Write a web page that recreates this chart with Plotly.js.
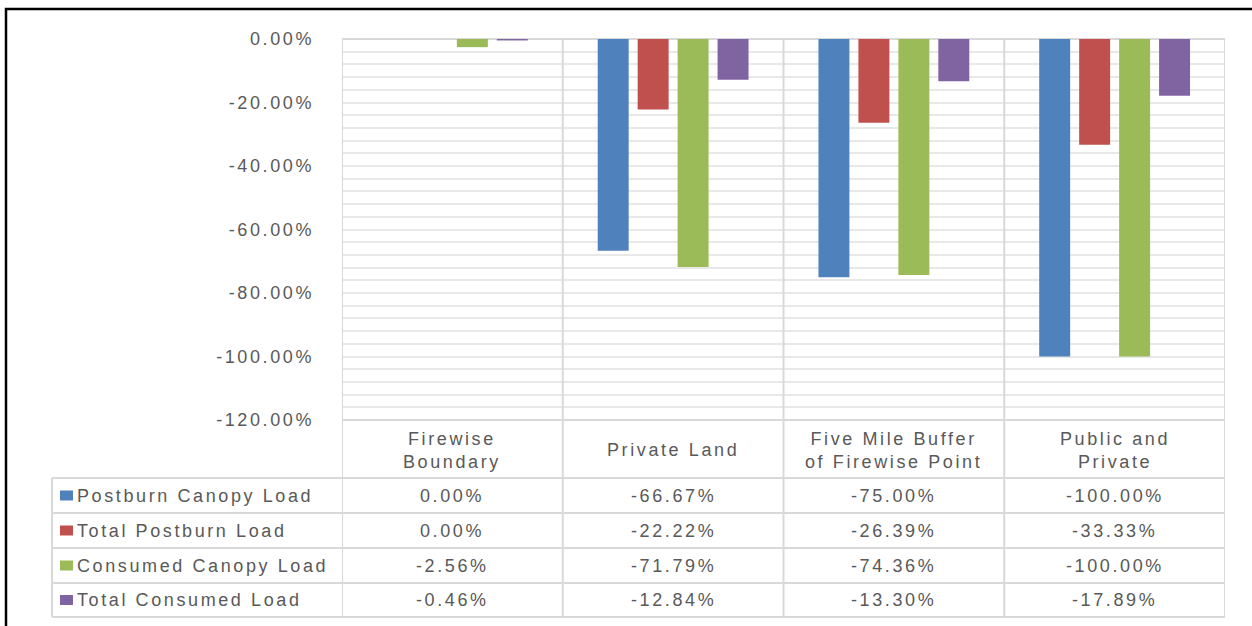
<!DOCTYPE html>
<html>
<head>
<meta charset="utf-8">
<script src="https://cdn.plot.ly/plotly-3.0.1.min.js"></script>
<style>
  html, body { margin: 0; padding: 0; background: #fff; }
  #chart { width: 1252px; height: 626px; }
  svg text { letter-spacing: 2.6px; }
</style>
</head>
<body>
<div id="chart"></div>
<script>
// ---- data ----
const categories = ["Firewise<br>Boundary", "Private Land", "Five Mile Buffer<br>of Firewise Point", "Public and<br>Private"];
const seriesNames = ["Postburn Canopy Load", "Total Postburn Load", "Consumed Canopy Load", "Total Consumed Load"];
const postburnCanopy = [0.00, -66.67, -75.00, -100.00];
const totalPostburn = [0.00, -22.22, -26.39, -33.33];
const consumedCanopy = [-2.56, -71.79, -74.36, -100.00];
const totalConsumed = [-0.46, -12.84, -13.30, -17.89];
const yTicks = [0, -20, -40, -60, -80, -100, -120];
const yTickText = ["0.00%", "-20.00%", "-40.00%", "-60.00%", "-80.00%", "-100.00%", "-120.00%"];

const seriesValues = [postburnCanopy, totalPostburn, consumedCanopy, totalConsumed];
const colors = ["#4F81BD", "#C0504D", "#9BBB59", "#8064A2"];

// ---- geometry helpers (pixel -> paper) ----
const W = 1252, H = 626;
const PL = 342, PR = 1225, PT = 39, PB = 420;
const px = p => (p - PL) / (PR - PL);
const py = p => (PB - p) / (PB - PT);

const FONT = "'Liberation Sans', Arial, sans-serif";
const TXT = "#595959";
const GRID = "#e8e8e8";
const BORDER = "#d9d9d9";

const idx = categories.map((_, i) => i);

const traces = seriesValues.map((vals, s) => ({
  type: "bar",
  name: seriesNames[s],
  x: idx,
  y: vals,
  marker: { color: colors[s] },
  hoverinfo: "skip"
}));

// table geometry
const rowLines = [478, 513, 548, 583, 617];
const rowCenters = [495.5, 530.5, 565.5, 600];
const shapes = [];
const annotations = [];

// outer black frame
shapes.push({ type: "rect", xref: "paper", yref: "paper",
  x0: px(6), x1: px(1262), y0: py(9), y1: py(660),
  line: { color: "#000", width: 2.5 }, fillcolor: "rgba(0,0,0,0)" });

// header top line
shapes.push({ type: "line", xref: "x", yref: "paper", x0: -0.5, x1: categories.length - 0.5,
  y0: py(420), y1: py(420), line: { color: BORDER, width: 2 } });
// row lines
rowLines.forEach(r => shapes.push({ type: "line", xref: "paper", yref: "paper",
  x0: px(52), x1: px(1225), y0: py(r), y1: py(r), line: { color: BORDER, width: 2 } }));
// vertical category boundaries
for (let b = 0; b <= categories.length; b++) {
  shapes.push({ type: "line", xref: "x", yref: "paper", x0: b - 0.5, x1: b - 0.5,
    y0: py(39), y1: py(617), line: { color: BORDER, width: 2 } });
}
// left border of legend column
shapes.push({ type: "line", xref: "paper", yref: "paper", x0: px(52), x1: px(52),
  y0: py(478), y1: py(617), line: { color: BORDER, width: 2 } });

// category header labels
categories.forEach((c, i) => annotations.push({
  xref: "x", yref: "paper", x: i, y: py(450), text: c, showarrow: false,
  xanchor: "center", yanchor: "middle", align: "center",
  font: { family: FONT, size: 18, color: TXT }
}));

// legend keys + names + values
seriesNames.forEach((n, s) => {
  const cy = rowCenters[s];
  shapes.push({ type: "rect", xref: "paper", yref: "paper",
    x0: px(60), x1: px(73), y0: py(cy - 5), y1: py(cy + 5),
    fillcolor: colors[s], line: { width: 0 } });
  annotations.push({ xref: "paper", yref: "paper", x: px(75), y: py(cy), text: n,
    showarrow: false, xanchor: "left", yanchor: "middle",
    font: { family: FONT, size: 18, color: TXT } });
  seriesValues[s].forEach((v, i) => annotations.push({
    xref: "x", yref: "paper", x: i, y: py(cy), text: v.toFixed(2) + "%",
    showarrow: false, xanchor: "center", yanchor: "middle",
    font: { family: FONT, size: 18, color: TXT } }));
});

const layout = {
  width: W, height: H, autosize: false,
  margin: { l: PL, r: W - PR, t: PT, b: H - PB, pad: 0 },
  paper_bgcolor: "#fff", plot_bgcolor: "#fff",
  showlegend: false,
  barmode: "group",
  bargap: 0.276,
  bargroupgap: 0.225,
  xaxis: {
    range: [-0.5, categories.length - 0.5],
    showticklabels: false, showgrid: false, zeroline: false, showline: false, ticks: ""
  },
  yaxis: {
    range: [-120, 0],
    tickvals: yTicks, ticktext: yTickText,
    tickfont: { family: FONT, size: 18, color: TXT },
    ticklabelstandoff: 27,
    showgrid: true, gridcolor: GRID, gridwidth: 2,
    minor: { dtick: 4, showgrid: true, gridcolor: GRID, gridwidth: 2 },
    zeroline: true, zerolinecolor: BORDER, zerolinewidth: 2,
    showline: false, ticks: ""
  },
  shapes: shapes,
  annotations: annotations
};

Plotly.newPlot("chart", traces, layout, { staticPlot: true, displayModeBar: false });
</script>
</body>
</html>
